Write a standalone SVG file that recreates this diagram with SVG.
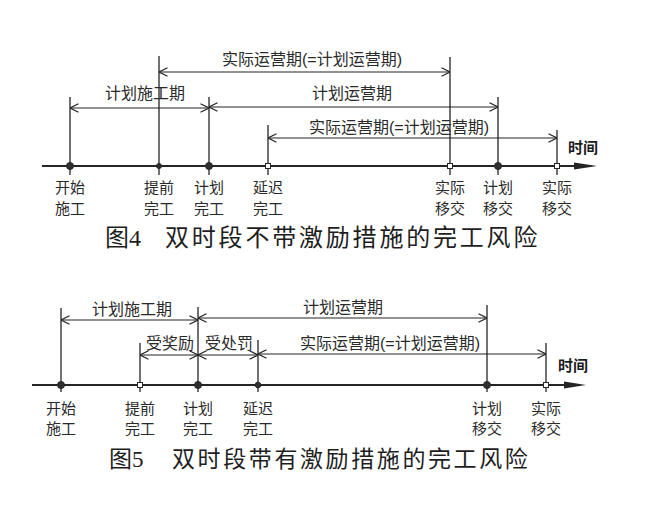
<svg xmlns="http://www.w3.org/2000/svg" width="658" height="508" viewBox="0 0 658 508">
<defs>
<style>
.ln{stroke:#252525;stroke-width:1.3;fill:none}
.ax{stroke:#252525;stroke-width:2;fill:none}
.dim{stroke:#252525;stroke-width:1.2;fill:none;marker-start:url(#v);marker-end:url(#v)}
.dot{fill:#303030;stroke:#252525;stroke-width:1}
.sq{fill:#fff;stroke:#252525;stroke-width:1}
.lab{font-family:"Liberation Sans","Noto Sans CJK SC",sans-serif;font-size:16px;fill:#2a2a2a;text-anchor:middle}
.tk{font-family:"Liberation Sans","Noto Sans CJK SC",sans-serif;font-size:15px;fill:#2a2a2a;text-anchor:middle}
.tm{font-family:"Liberation Sans","Noto Sans CJK SC",sans-serif;font-size:15px;font-weight:bold;fill:#1a1a1a;text-anchor:middle}
.cap{font-family:"Liberation Serif","Noto Sans CJK SC",serif;fill:#1e1e1e}
</style>
<marker id="v" viewBox="0 0 10 10" refX="10" refY="5" markerWidth="10" markerHeight="10" markerUnits="userSpaceOnUse" orient="auto-start-reverse">
<path d="M1.5,0.8 L10,5 L1.5,9.2" fill="none" stroke="#252525" stroke-width="1.2"/>
</marker>
</defs>
<rect width="658" height="508" fill="#ffffff"/>

<g id="fig4">
<g id="connectors4">
<line class="ax" x1="42" y1="166" x2="577" y2="166"/>
<polygon points="574,162.5 597,166 574,169.5" fill="#252525"/>
<line class="ln" x1="70" y1="97" x2="70" y2="175"/>
<line class="ln" x1="159" y1="56" x2="159" y2="175"/>
<line class="ln" x1="209" y1="97" x2="209" y2="175"/>
<line class="ln" x1="268" y1="125" x2="268" y2="175"/>
<line class="ln" x1="450" y1="57" x2="450" y2="175"/>
<line class="ln" x1="498" y1="97" x2="498" y2="175"/>
<line class="ln" x1="557" y1="130" x2="557" y2="175"/>
<line class="dim" x1="159" y1="72" x2="450" y2="72"/>
<line class="dim" x1="70" y1="108" x2="209" y2="108"/>
<line class="dim" x1="209" y1="107" x2="498" y2="107"/>
<line class="dim" x1="268" y1="138" x2="557" y2="138"/>
</g>
<g id="ticks4">
<circle class="dot" cx="70" cy="166" r="3.5"/>
<circle class="dot" cx="159" cy="166" r="2.5"/>
<circle class="dot" cx="209" cy="166" r="3.5"/>
<rect class="sq" x="265.5" y="163.5" width="5" height="5"/>
<rect class="sq" x="447.5" y="163.5" width="5" height="5"/>
<circle class="dot" cx="498" cy="166" r="3.5"/>
<rect class="sq" x="554.5" y="163.5" width="5" height="5"/>
</g>
<g id="labels4">
<text class="lab" x="312" y="65">实际运营期(=计划运营期)</text>
<text class="lab" x="145" y="99">计划施工期</text>
<text class="lab" x="352" y="99">计划运营期</text>
<text class="lab" x="399" y="133">实际运营期(=计划运营期)</text>
<text class="tm" x="583" y="153">时间</text>
<text class="tk" x="70" y="193">开始</text><text class="tk" x="70" y="214">施工</text>
<text class="tk" x="159" y="193">提前</text><text class="tk" x="159" y="214">完工</text>
<text class="tk" x="209" y="193">计划</text><text class="tk" x="209" y="214">完工</text>
<text class="tk" x="268" y="193">延迟</text><text class="tk" x="268" y="214">完工</text>
<text class="tk" x="450" y="193">实际</text><text class="tk" x="450" y="214">移交</text>
<text class="tk" x="498" y="193">计划</text><text class="tk" x="498" y="214">移交</text>
<text class="tk" x="557" y="193">实际</text><text class="tk" x="557" y="214">移交</text>
</g>
<text class="cap" x="105" y="246" font-size="24">图4</text>
<text class="cap" x="165" y="246" font-size="24" letter-spacing="2.8">双时段不带激励措施的完工风险</text>
</g>

<g id="fig5">
<g id="connectors5">
<line class="ax" x1="32" y1="385" x2="567" y2="385"/>
<polygon points="564,381.5 586,385 564,388.5" fill="#252525"/>
<line class="ln" x1="61" y1="308" x2="61" y2="392"/>
<line class="ln" x1="140" y1="343" x2="140" y2="392"/>
<line class="ln" x1="198" y1="307" x2="198" y2="392"/>
<line class="ln" x1="258" y1="340" x2="258" y2="392"/>
<line class="ln" x1="487" y1="305" x2="487" y2="392"/>
<line class="ln" x1="546" y1="343" x2="546" y2="392"/>
<line class="dim" x1="61" y1="320" x2="198" y2="320"/>
<line class="dim" x1="198" y1="318" x2="487" y2="318"/>
<line class="dim" x1="140" y1="355" x2="198" y2="355"/>
<line class="dim" x1="198" y1="355" x2="258" y2="355"/>
<line class="dim" x1="258" y1="354" x2="546" y2="354"/>
</g>
<g id="ticks5">
<circle class="dot" cx="61" cy="385" r="3.5"/>
<rect class="sq" x="137.5" y="382.5" width="5" height="5"/>
<circle class="dot" cx="198" cy="385" r="3.5"/>
<circle class="dot" cx="258" cy="385" r="2.8"/>
<circle class="dot" cx="487" cy="385" r="3.5"/>
<rect class="sq" x="543.5" y="382.5" width="5" height="5"/>
</g>
<g id="labels5">
<text class="lab" x="132" y="315">计划施工期</text>
<text class="lab" x="343" y="313">计划运营期</text>
<text class="lab" x="170" y="349">受奖励</text>
<text class="lab" x="229" y="349">受处罚</text>
<text class="lab" x="390" y="349">实际运营期(=计划运营期)</text>
<text class="tm" x="573" y="371">时间</text>
<text class="tk" x="61" y="414">开始</text><text class="tk" x="61" y="434">施工</text>
<text class="tk" x="140" y="414">提前</text><text class="tk" x="140" y="434">完工</text>
<text class="tk" x="198" y="414">计划</text><text class="tk" x="198" y="434">完工</text>
<text class="tk" x="258" y="414">延迟</text><text class="tk" x="258" y="434">完工</text>
<text class="tk" x="487" y="414">计划</text><text class="tk" x="487" y="434">移交</text>
<text class="tk" x="546" y="414">实际</text><text class="tk" x="546" y="434">移交</text>
</g>
<text class="cap" x="109" y="467" font-size="23">图5</text>
<text class="cap" x="172" y="467" font-size="23" letter-spacing="2.6">双时段带有激励措施的完工风险</text>
</g>
</svg>
